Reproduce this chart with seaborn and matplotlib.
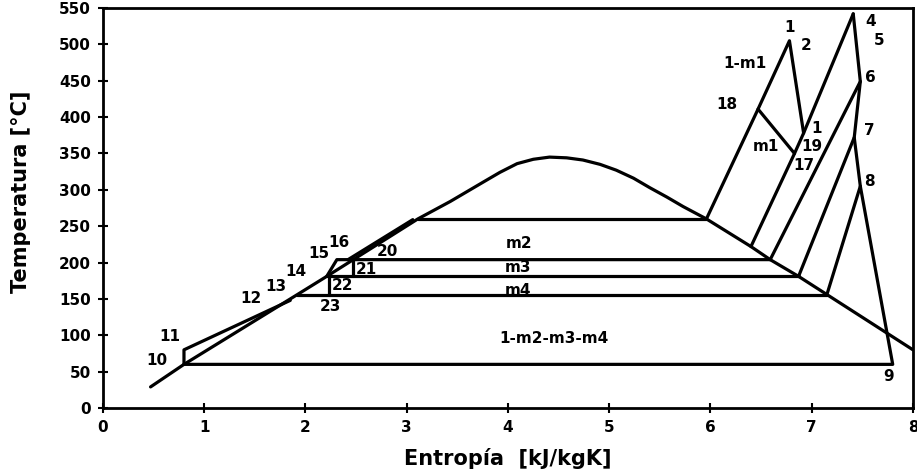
import matplotlib
matplotlib.use("Agg")
import matplotlib.pyplot as plt
import seaborn as sns
import pandas as pd

# ---- data (entropy s [kJ/kgK], temperature T [°C]) ----
dome_s = [0.47, 0.80, 1.92, 2.21, 3.11, 3.43, 3.76, 3.92, 4.09, 4.25, 4.41, 4.58, 4.74,
          4.91, 5.07, 5.24, 5.40, 5.57, 5.73, 5.96, 6.40, 6.59, 6.87, 7.15, 8.00]
dome_T = [29, 60, 156, 181, 260, 284, 311, 324, 336, 342, 345, 344, 341,
          335, 327, 316, 303, 290, 277, 260, 222, 204, 181, 156, 80]

outer_s = [0.80, 7.80, 7.48, 7.42, 7.48, 7.41]          # 10 -> 9 -> 8 -> 7 -> 6 -> 4
outer_T = [60, 60, 305, 372, 449, 542]

pump_s = [0.80, 0.80, 1.85]                              # 10 -> 11 -> 12
pump_T = [60, 80, 148]

m4_s = [1.92, 7.15]
m4_T = [156, 156]

m3_s = [2.21, 6.87]
m3_T = [181, 181]

m2_s = [2.21, 2.31, 6.59]                                # 15 -> 16 -> m2
m2_T = [181, 204, 204]

v22_s = [2.23, 2.23]
v22_T = [156, 181]

v21_s = [2.47, 2.47]
v21_T = [181, 204]

l20_s = [2.42, 3.06]
l20_T = [204, 259]

h260_s = [3.11, 5.96]
h260_T = [260, 260]

l1_s = [5.96, 6.47, 6.78, 6.92]                          # dome -> 18 -> 1 -> 19
l1_T = [260, 411, 505, 378]

l18_s = [6.47, 6.83]                                     # 18 -> 17
l18_T = [411, 350]

l4_s = [7.41, 6.92, 6.83, 6.40]                          # 4 -> 19 -> 17 -> dome
l4_T = [542, 378, 350, 222]

l6_s = [7.48, 6.59]
l6_T = [449, 204]

l7_s = [7.42, 6.87]
l7_T = [372, 181]

l8_s = [7.48, 7.15]
l8_T = [305, 156]

label_text = ["1", "2", "1-m1", "18", "m1", "1", "19", "17", "4", "5", "6", "7", "8", "9",
              "m2", "m3", "m4", "1-m2-m3-m4", "10", "11", "12", "13", "14", "15", "16",
              "20", "21", "22", "23"]
label_s = [6.78, 6.94, 6.34, 6.16, 6.55, 7.05, 7.00, 6.92, 7.58, 7.67, 7.58, 7.57, 7.57, 7.76,
           4.11, 4.10, 4.10, 4.45, 0.53, 0.66, 1.46, 1.71, 1.91, 2.13, 2.33,
           2.81, 2.60, 2.37, 2.25]
label_T = [523, 499, 474, 418, 360, 385, 360, 333, 531, 505, 455, 382, 312, 43,
           226, 193, 162, 96, 65, 98, 151, 167, 188, 212, 227,
           215, 191, 168, 140]

x_ticks = [0, 1, 2, 3, 4, 5, 6, 7, 8]
y_ticks = [0, 50, 100, 150, 200, 250, 300, 350, 400, 450, 500, 550]

# ---- plot ----
sns.set_theme(style="white")
plt.rcParams['font.family'] = ['DejaVu Sans']
plt.rcParams['font.weight'] = 'bold'
for k in ['text.color', 'axes.labelcolor', 'xtick.color', 'ytick.color', 'axes.edgecolor']:
    plt.rcParams[k] = 'black'

fig = plt.figure(figsize=(9.17, 4.72), dpi=100)
ax = fig.add_axes([0.1123, 0.1356, 0.8833, 0.8474])

segments = [(dome_s, dome_T), (outer_s, outer_T), (pump_s, pump_T), (m4_s, m4_T),
            (m3_s, m3_T), (m2_s, m2_T), (v22_s, v22_T), (v21_s, v21_T), (l20_s, l20_T),
            (h260_s, h260_T), (l1_s, l1_T), (l18_s, l18_T), (l4_s, l4_T),
            (l6_s, l6_T), (l7_s, l7_T), (l8_s, l8_T)]
for xs, ys in segments:
    df = pd.DataFrame({"s": xs, "T": ys})
    sns.lineplot(data=df, x="s", y="T", sort=False, estimator=None, color="black",
                 linewidth=2.3, ax=ax, solid_joinstyle="round", solid_capstyle="round")

for t, xs, ys in zip(label_text, label_s, label_T):
    ax.text(xs, ys, t, ha="center", va="center", fontsize=11, fontweight="bold",
            color="black")

ax.set_xlim(0, 8)
ax.set_ylim(0, 550)
ax.set_xticks(x_ticks)
ax.set_yticks(y_ticks)
ax.set_xticklabels([str(v) for v in x_ticks], fontsize=11, fontweight="bold")
ax.set_yticklabels([str(v) for v in y_ticks], fontsize=11, fontweight="bold")
ax.tick_params(axis="both", direction="inout", length=7, width=1.5, colors="black",
               bottom=True, left=True, top=False, right=False, pad=5)
for sp in ax.spines.values():
    sp.set_color("black")
    sp.set_linewidth(2)
ax.set_xlabel("Entropía  [kJ/kgK]", fontsize=15, fontweight="bold", color="black",
              va="center", ha="center")
ax.set_ylabel("Temperatura [°C]", fontsize=15, fontweight="bold", color="black",
              va="center", ha="center")
ax.xaxis.set_label_coords(0.5, -0.1275)
ax.yaxis.set_label_coords(-0.101, 0.54)

fig.savefig("out.png", dpi=100)
